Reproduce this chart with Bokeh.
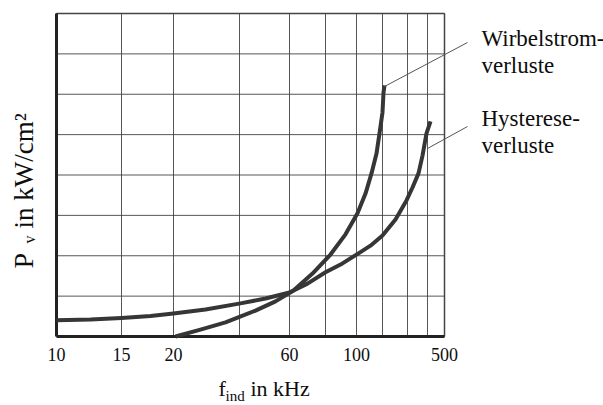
import math
from bokeh.plotting import figure
from bokeh.models import Range1d
from bokeh.core.properties import value
from bokeh.embed import file_html
from bokeh.resources import INLINE

# ---- data (schematic axis: x in position units along the printed scale, y in grid divisions)
grid_x = [0, 65, 117, 183, 233, 269, 300, 326, 351, 371, 388]
tick_pos = [0, 65, 117, 233, 300, 388]
tick_labels = ["10", "15", "20", "60", "100", "500"]
grid_y = [0, 1, 2, 3, 4, 5, 6, 7, 8]

hyst_x = [0, 34, 65, 94, 117, 149, 184, 209, 233, 251, 269, 286, 302, 314, 326, 339, 350, 356, 362, 366, 370, 374]
hyst_y = [0.40, 0.42, 0.46, 0.51, 0.57, 0.67, 0.82, 0.94, 1.09, 1.31, 1.59, 1.81, 2.06, 2.25, 2.50, 2.90,
          3.37, 3.69, 4.04, 4.48, 5.03, 5.33]

wirb_x = [119, 144, 169, 199, 219, 237, 256, 274, 289, 301, 309, 315, 320, 323, 326, 327, 328]
wirb_y = [0.0, 0.17, 0.35, 0.64, 0.87, 1.14, 1.56, 2.03, 2.53, 3.05, 3.54, 4.04, 4.53, 5.03, 5.55, 6.04, 6.22]

FONT = "Liberation Serif"
INK = "#0d0d0d"
GRID = "#3a3a3a"

# layout constants (pixels): plot box left/top/right/bottom inside the 603x405 canvas
W, H = 603, 405
L, T, R, B = 56, 13, 444, 336
XMAX = grid_x[-1]
YMAX = grid_y[-1]
KX = (R - L) / XMAX          # px per x unit
KY = (B - T) / YMAX          # px per y unit
BASE_FIX = 0.32              # empirical baseline correction (fraction of font size)

p = figure(width=W, height=H, output_backend="svg", toolbar_location=None,
           x_range=Range1d(-L / KX, (W - L) / KX), y_range=Range1d(-(H - B) / KY, B / KY),
           x_axis_type=None, y_axis_type=None,
           min_border=0, min_border_left=0, min_border_right=0, min_border_top=0, min_border_bottom=0,
           background_fill_color="white", border_fill_color="white")
p.outline_line_color = None
p.xgrid.visible = False
p.ygrid.visible = False

def sx(px):
    return (px - L) / KX

def sy(py):
    return (B - py) / KY

# grid
p.segment(x0=grid_x, y0=[0] * len(grid_x), x1=grid_x, y1=[YMAX] * len(grid_x),
          line_color=GRID, line_width=1, line_alpha=0.85)
p.segment(x0=[0] * len(grid_y), y0=grid_y, x1=[XMAX] * len(grid_y), y1=grid_y,
          line_color=GRID, line_width=1, line_alpha=0.85)
# frame: thin top/right, heavy left/bottom
p.segment(x0=[0, XMAX], y0=[YMAX, 0], x1=[XMAX, XMAX], y1=[YMAX, YMAX], line_color="#444444", line_width=1.5)
p.segment(x0=[0, 0], y0=[0, 0], x1=[0, XMAX], y1=[YMAX, 0], line_color="#222222", line_width=3)

# curves
p.line(hyst_x, hyst_y, line_color="#363636", line_width=4, line_join="round")
p.line(wirb_x, wirb_y, line_color="#363636", line_width=4, line_join="round")

# tick labels
p.text(x=tick_pos, y=[sy(360 - BASE_FIX * 18)] * len(tick_pos), text=tick_labels,
       text_font=value(FONT), text_font_size=value("18px"), text_color=INK,
       text_align="center", text_baseline="alphabetic")

def lab(px, py, text, size, rotated=False):
    if rotated:
        px = px - BASE_FIX * size
    else:
        py = py - BASE_FIX * size
    p.text(x=[sx(px)], y=[sy(py)], text=[text], angle=(math.pi / 2 if rotated else 0.0),
           text_font=value(FONT), text_font_size=value(f"{size}px"), text_color=INK,
           text_align="left", text_baseline="alphabetic")

# leader lines
p.segment(x0=[sx(384), sx(427)], y0=[sy(86), sy(148)], x1=[sx(467), sx(467)], y1=[sy(42), sy(126)],
          line_color="#555555", line_width=1)

lab(481, 45, "Wirbelstrom-", 23)
lab(481, 72, "verluste", 23)
lab(481, 125, "Hysterese-", 23)
lab(481, 152, "verluste", 23)

# x axis title with subscript
lab(218, 395, "f", 22)
lab(225, 400, "ind", 15)
lab(250, 395, "in kHz", 22)

# y axis title with subscript (rotated)
lab(32, 268, "P", 28, rotated=True)
lab(34, 243, "v", 16, rotated=True)
lab(32, 228, "in kW/cm²", 27, rotated=True)

open("out.html", "w").write(file_html(p, INLINE))
